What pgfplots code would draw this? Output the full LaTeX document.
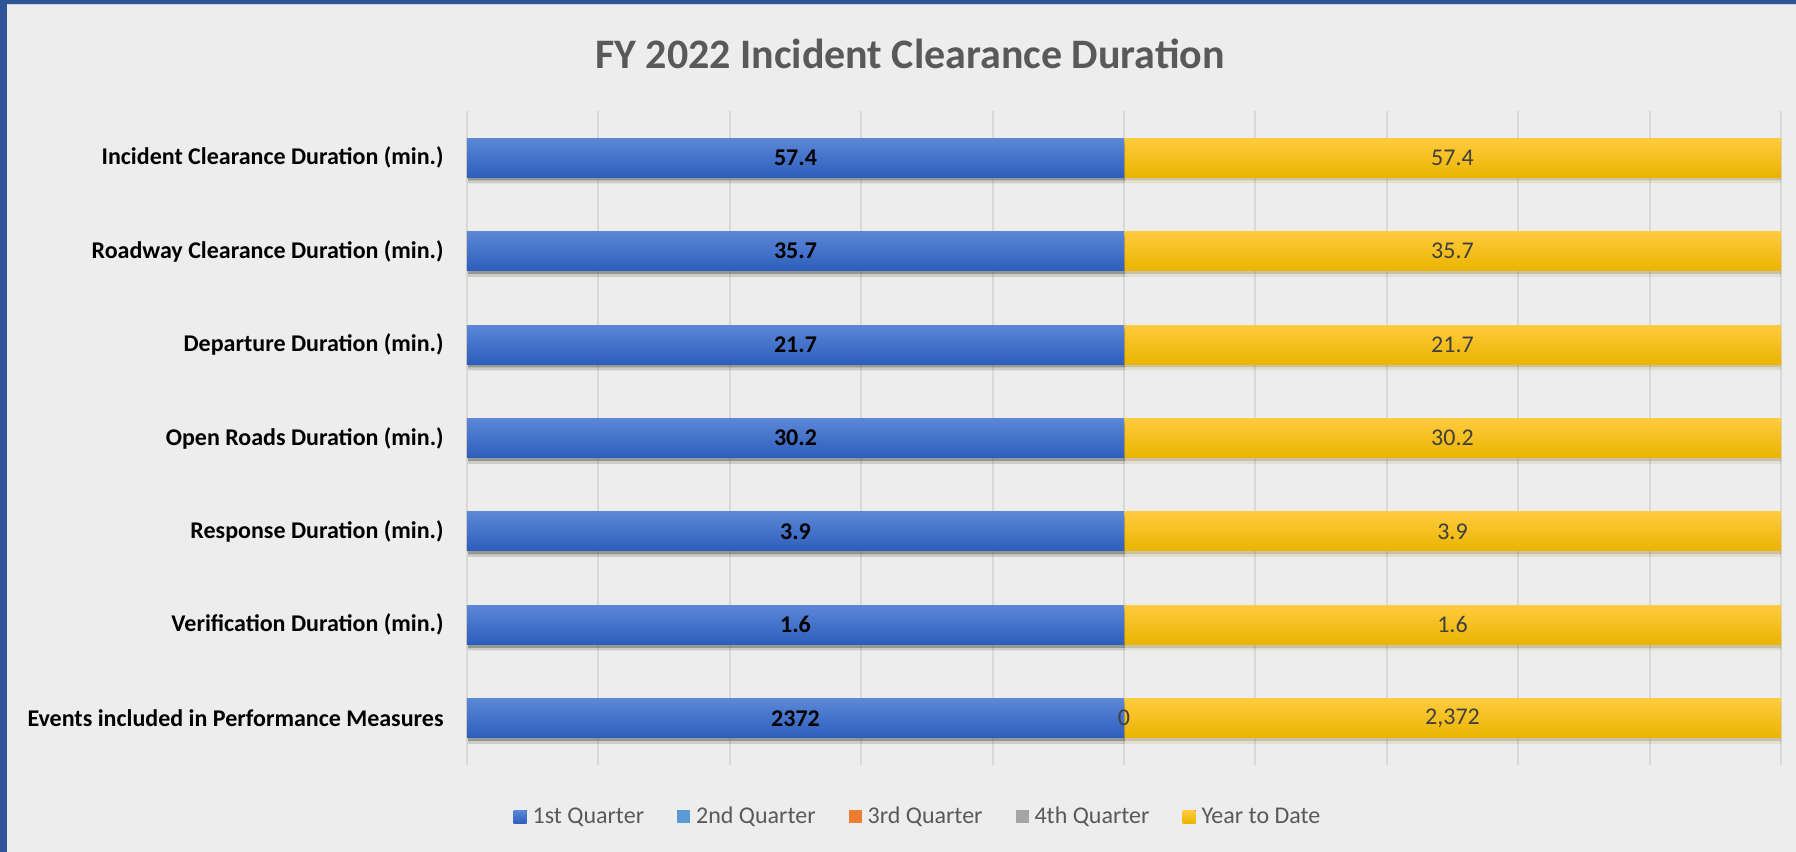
\documentclass[border=0pt]{standalone}
\usepackage{pgfplots}
\pgfplotsset{compat=1.18}
\usepackage{fontspec}
\setmainfont{Carlito}
\usetikzlibrary{shadows}
\definecolor{bg}{HTML}{EDEDED}
\definecolor{framec}{HTML}{2F5597}
\definecolor{qone}{HTML}{4472C4}
\definecolor{qonetop}{HTML}{5C87D7}
\definecolor{qonemid}{HTML}{406FCB}
\definecolor{qonebot}{HTML}{2D5EBC}
\definecolor{qtwo}{HTML}{5B9BD5}
\definecolor{qthree}{HTML}{ED7D31}
\definecolor{qfour}{HTML}{A5A5A5}
\definecolor{ytd}{HTML}{FFC000}
\definecolor{ytdtop}{HTML}{FFCB3E}
\definecolor{ytdmid}{HTML}{FFC500}
\definecolor{ytdbot}{HTML}{EAB400}
\definecolor{titlegray}{HTML}{595959}
\definecolor{lblgray}{HTML}{404040}
\definecolor{gridc}{HTML}{D9D9D9}
\pgfplotsset{
  shadowed/.style={
    drop shadow={shadow xshift=0.5pt, shadow yshift=-3pt, opacity=0.05, fill=black},
    drop shadow={shadow xshift=0.5pt, shadow yshift=-1.6pt, opacity=0.11, fill=black}},
  qonebar/.style={forget plot, draw=none, top color=qonetop, middle color=qonemid, bottom color=qonebot, shadowed,
    nodes near coords,
    every node near coord/.append style={anchor=center, xshift=-164.25pt, font=\bfseries\fontsize{12}{14}\selectfont, text=black}},
  ytdbar/.style={forget plot, draw=none, top color=ytdtop, middle color=ytdmid, bottom color=ytdbot, shadowed,
    nodes near coords,
    every node near coord/.append style={anchor=center, xshift=-164.25pt, font=\fontsize{12}{14}\selectfont, text=lblgray}},
}
\begin{document}
\begin{tikzpicture}
\useasboundingbox (0,0) rectangle (898pt,426pt);
\fill[bg] (0,0) rectangle (898pt,426pt);
\fill[framec] (0,0) rectangle (3.5pt,426pt);
\fill[framec] (0,424pt) rectangle (898pt,426pt);
\fill[framec!25] (3.5pt,423.3pt) rectangle (898pt,424pt);
\node[font=\bfseries\fontsize{21}{24}\selectfont, text=titlegray] at (455pt,399pt) {FY 2022 Incident Clearance Duration};
\begin{axis}[
  at={(233.5pt,43.5pt)}, anchor=south west,
  width=657pt, height=327pt, scale only axis,
  xbar, bar width=19.5pt, bar shift=0pt,
  xmin=0, xmax=100, ymin=-0.5, ymax=6.5,
  xtick={0,10,...,100}, xticklabels={},
  xmajorgrids, grid style={gridc, line width=1pt},
  major tick length=0pt,
  axis line style={draw=none},
  ytick={0,...,6},
  yticklabels={Events included in Performance Measures, Verification Duration (min.), Response Duration (min.), Open Roads Duration (min.), Departure Duration (min.), Roadway Clearance Duration (min.), Incident Clearance Duration (min.)},
  yticklabel style={font=\bfseries\fontsize{12}{14}\selectfont, text=black, inner sep=0pt, xshift=-11.5pt},
  point meta=explicit symbolic,
  legend style={at={(0.3440,-0.0795)}, anchor=center, draw=none, fill=none,
    legend columns=5, font=\fontsize{12}{14}\selectfont, text=titlegray,
    /tikz/every even column/.append style={column sep=14.5pt},
    /tikz/every odd column/.append style={column sep=1pt},
    legend cell align=left, inner sep=0pt},
]
\addlegendimage{legend image code/.code={\fill[draw=none, top color=qonetop, middle color=qonemid, bottom color=qonebot] (0pt,-3.25pt) rectangle (6.5pt,3.25pt);}}
\addlegendentry{1st Quarter}
\addlegendimage{legend image code/.code={\fill[draw=none, fill=qtwo] (0pt,-3.25pt) rectangle (6.5pt,3.25pt);}}
\addlegendentry{2nd Quarter}
\addlegendimage{legend image code/.code={\fill[draw=none, fill=qthree] (0pt,-3.25pt) rectangle (6.5pt,3.25pt);}}
\addlegendentry{3rd Quarter}
\addlegendimage{legend image code/.code={\fill[draw=none, fill=qfour] (0pt,-3.25pt) rectangle (6.5pt,3.25pt);}}
\addlegendentry{4th Quarter}
\addlegendimage{legend image code/.code={\fill[draw=none, top color=ytdtop, middle color=ytdmid, bottom color=ytdbot] (0pt,-3.25pt) rectangle (6.5pt,3.25pt);}}
\addlegendentry{Year to Date}
% Year to Date (drawn from 50 to 100; 1st Quarter covers 0 to 50)
\addplot[ytdbar] coordinates {(100,6) [57.4]};
\addplot[ytdbar] coordinates {(100,5) [35.7]};
\addplot[ytdbar] coordinates {(100,4) [21.7]};
\addplot[ytdbar] coordinates {(100,3) [30.2]};
\addplot[ytdbar] coordinates {(100,2) [3.9]};
\addplot[ytdbar] coordinates {(100,1) [1.6]};
\addplot[ytdbar] coordinates {(100,0) [{2,372}]};
% 1st Quarter
\addplot[qonebar] coordinates {(50,6) [57.4]};
\addplot[qonebar] coordinates {(50,5) [35.7]};
\addplot[qonebar] coordinates {(50,4) [21.7]};
\addplot[qonebar] coordinates {(50,3) [30.2]};
\addplot[qonebar] coordinates {(50,2) [3.9]};
\addplot[qonebar] coordinates {(50,1) [1.6]};
\addplot[qonebar] coordinates {(50,0) [2372]};
% 2nd Quarter zero label
\addplot[forget plot, only marks, mark=none, draw=none, fill=none,
  nodes near coords,
  every node near coord/.append style={anchor=center, font=\fontsize{12}{14}\selectfont, text=lblgray}]
  coordinates {(50,0) [0]};
\end{axis}
\end{tikzpicture}
\end{document}
